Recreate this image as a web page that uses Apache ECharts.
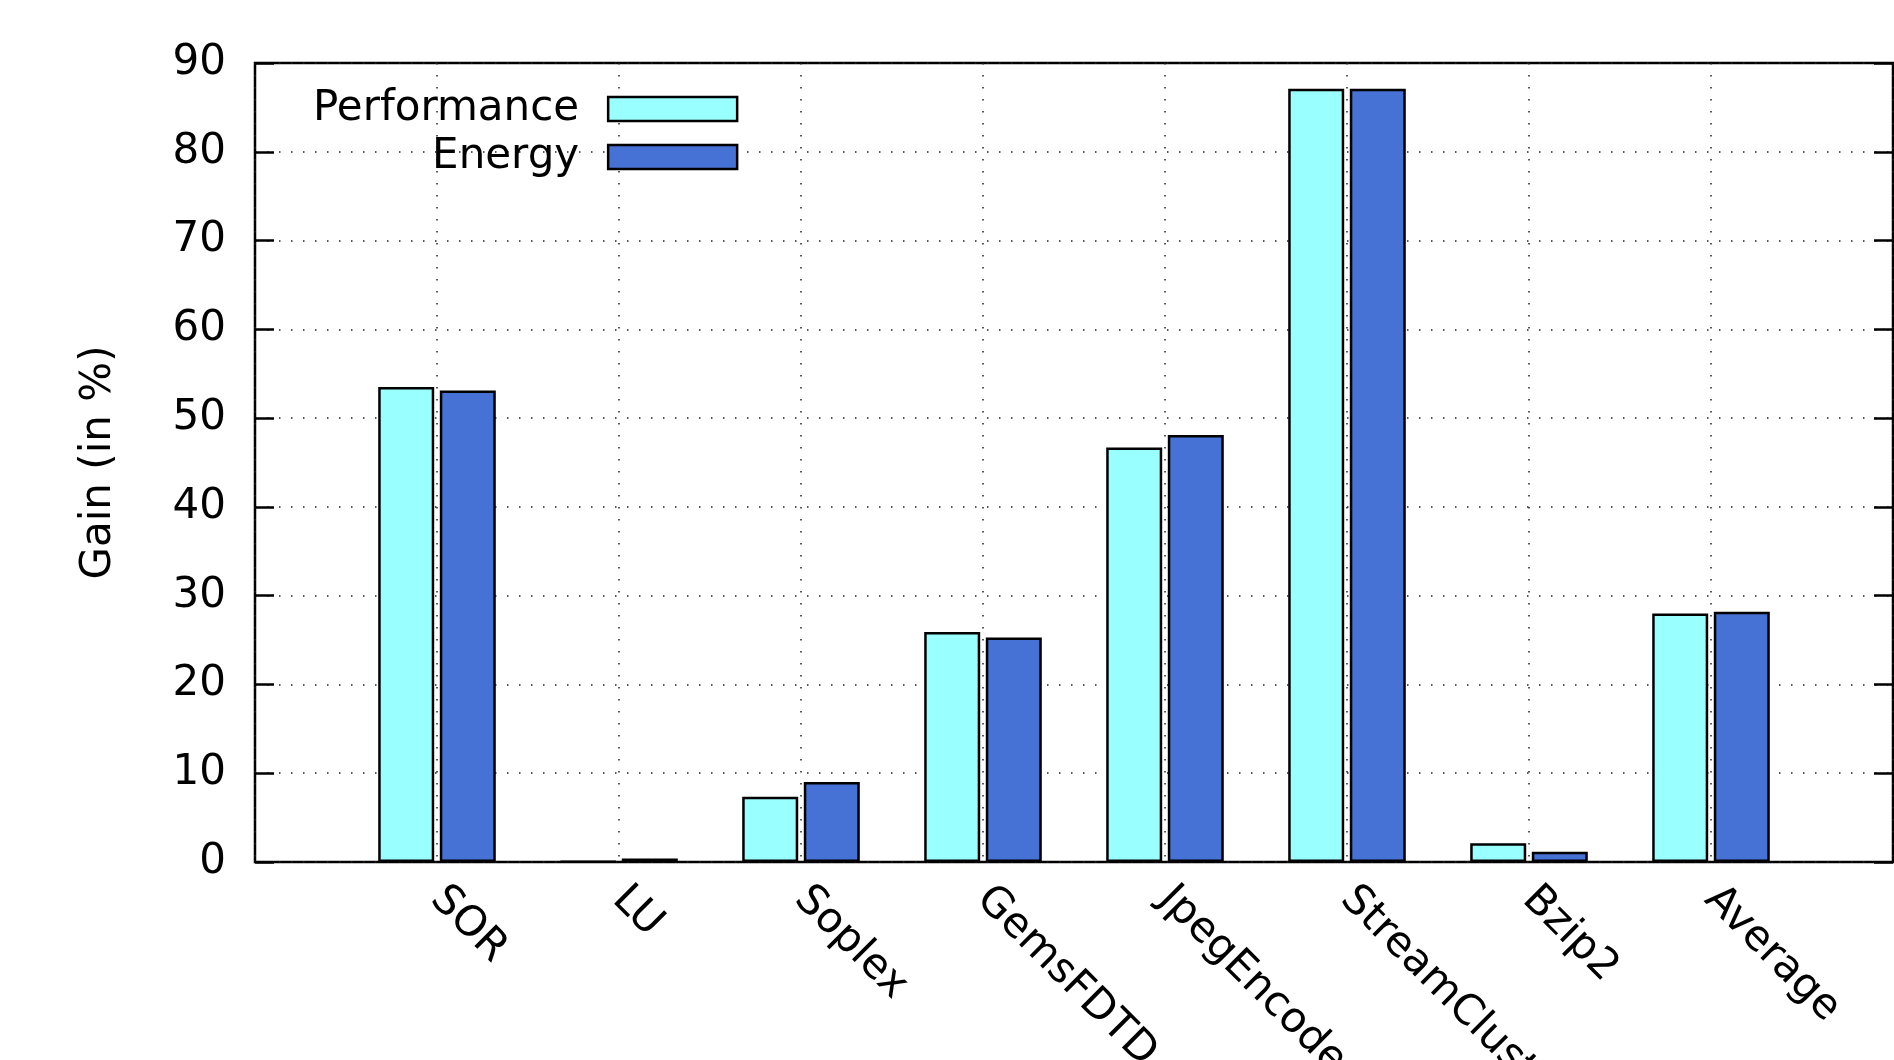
<!DOCTYPE html>
<html>
<head>
<meta charset="utf-8">
<script src="https://cdn.jsdelivr.net/npm/echarts@6/dist/echarts.min.js"></script>
<style>
html,body{margin:0;padding:0;background:#fff;}
#chart{width:1894px;height:1060px;}
</style>
</head>
<body>
<div id="chart"></div>
<script>
const categories = ['SOR', 'LU', 'Soplex', 'GemsFDTD', 'JpegEncoder', 'StreamCluster', 'Bzip2', 'Average'];
const performance = [53.5, 0.05, 7.35, 25.9, 46.7, 87.1, 2.1, 28.0];
const energy = [53.1, 0.4, 9.0, 25.3, 48.1, 87.1, 1.15, 28.2];
const yTicks = [0, 10, 20, 30, 40, 50, 60, 70, 80, 90];

const FONT = 'DejaVu Sans';
const axisCats = [''].concat(categories, ['']);
const pad = arr => ['-'].concat(arr, ['-']);
const dotted = { show: true, lineStyle: { color: '#222', width: 1.5, type: [1.5, 10.5] } };

const chart = echarts.init(document.getElementById('chart'), null, { renderer: 'canvas' });
chart.setOption({
  animation: false,
  backgroundColor: '#fff',
  textStyle: { fontFamily: FONT },
  grid: { left: 255, top: 63, right: 1, bottom: 198, show: true, borderColor: '#000', borderWidth: 2.5, containLabel: false, outerBoundsMode: 'none' },
  legend: {
    orient: 'vertical', align: 'right', left: 308, top: 83,
    icon: 'rect',
    itemWidth: 129, itemHeight: 24, itemGap: 6, selectedMode: false,
    itemStyle: { borderColor: '#000', borderWidth: 2.5 },
    textStyle: { fontFamily: FONT, fontSize: 42, color: '#000', padding: [9, 24, 0, 0] },
    data: ['Performance', 'Energy']
  },
  xAxis: {
    type: 'category', data: axisCats, boundaryGap: false,
    axisLine: { show: false }, axisTick: { show: false },
    axisLabel: { interval: 0, rotate: -45, fontSize: 42, color: '#000', fontFamily: FONT, margin: 31 },
    splitLine: dotted
  },
  yAxis: [{
    type: 'value', min: yTicks[0], max: yTicks[yTicks.length - 1], interval: 10, position: 'left',
    name: 'Gain (in %)', nameLocation: 'middle', nameGap: 135, nameRotate: 90,
    nameTextStyle: { fontSize: 42, color: '#000', fontFamily: FONT },
    axisLine: { show: false },
    axisTick: { show: true, inside: true, length: 19, lineStyle: { color: '#000', width: 2.5 } },
    axisLabel: { fontSize: 42, color: '#000', fontFamily: FONT, margin: 29 },
    splitLine: dotted
  }, {
    type: 'value', min: yTicks[0], max: yTicks[yTicks.length - 1], interval: 10, position: 'right',
    axisLine: { show: false },
    axisTick: { show: true, inside: true, length: 19, lineStyle: { color: '#000', width: 2.5 } },
    axisLabel: { show: false }, splitLine: { show: false }
  }],
  series: [{
    name: 'Performance', type: 'bar', data: pad(performance), barWidth: 56, barGap: '10%',
    itemStyle: { color: '#9affff', borderColor: '#000', borderWidth: 2.5 }
  }, {
    name: 'Energy', type: 'bar', data: pad(energy), barWidth: 56, barGap: '10%',
    itemStyle: { color: '#4671d5', borderColor: '#000', borderWidth: 2.5 }
  }]
});
</script>
</body>
</html>
